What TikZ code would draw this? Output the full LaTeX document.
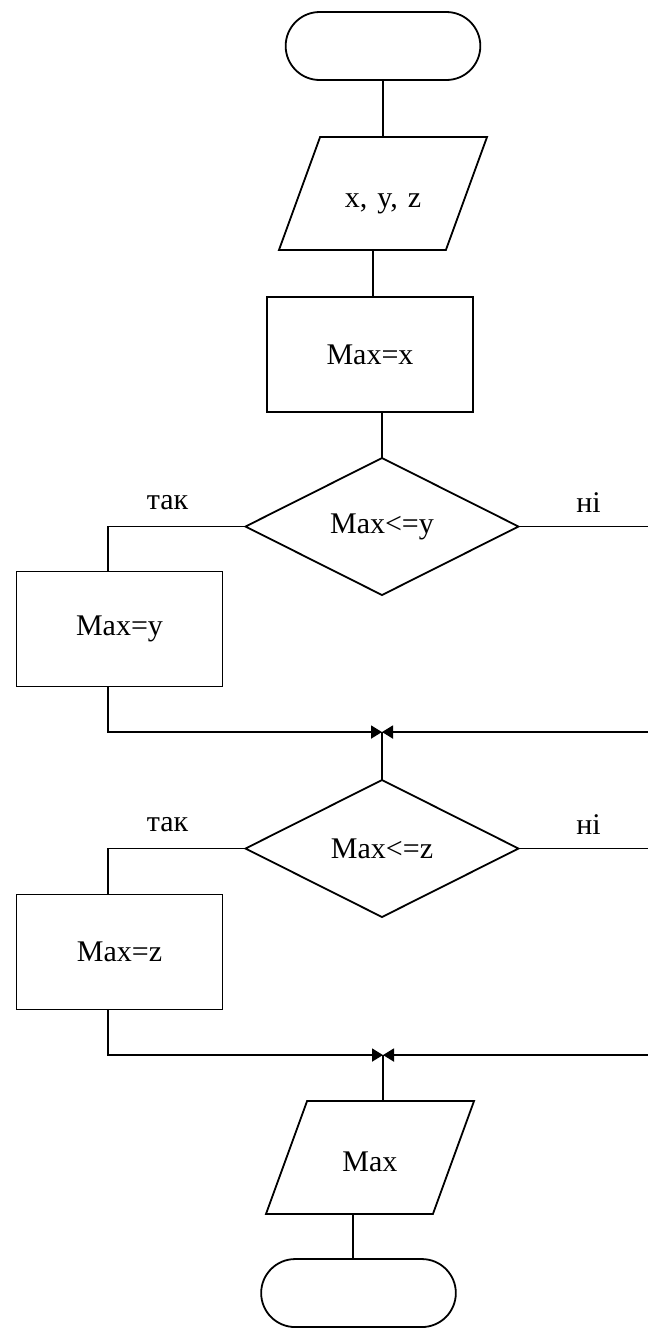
\documentclass[tikz,border=0pt]{standalone}
\usepackage{fontspec}
\setmainfont{Liberation Serif}
\usetikzlibrary{positioning,shapes.geometric,shapes.misc,arrows.meta}

\begin{document}
\begin{tikzpicture}
                [font=\fontsize{15}{18}\selectfont,line width=0.9pt,
                term/.style={rounded rectangle,draw,outer sep=0pt,minimum width=104pt,minimum height=34pt},
                io/.style={trapezium,draw,outer sep=0pt,trapezium left angle=70,trapezium right angle=110,
                  text width=62.9pt,align=center,text height=16pt,text depth=2pt,inner xsep=0pt,inner ysep=19.25pt},
                proc/.style={rectangle,draw,outer sep=0pt,minimum width=103pt,minimum height=57.5pt},
                cond/.style={diamond,draw,outer sep=0pt,minimum width=136.5pt,minimum height=68.5pt,inner sep=0pt},
                lbl/.style={inner sep=0pt},
                mergearr/.style={-{Triangle[length=5.5pt,width=6.5pt]}}]
                \useasboundingbox (0,0) rectangle (324pt,-664.5pt);
                \node[term] (start) at (191.5pt,-23pt) {};
                \node[io] (input)[below=28.5pt of start]{x, y, z};
                \node[proc] (max1)[below=23.5pt of input,xshift=-6.5pt]{Max=x};
                \node[cond] (cmp1)[below=23pt of max1,xshift=6pt]{Max<=y};
                \node[proc] (max2)[below left=22.5pt and 11.5pt of cmp1.west]{Max=y};
                \node[cond] (cmp2)[below=92.5pt of cmp1]{Max<=z};
                \node[proc] (max3)[below left=23pt and 11.5pt of cmp2.west]{Max=z};
                \node[io] (output)[below=92pt of cmp2,xshift=-6pt]{Max};
                \node[term] (stop)[below=22.5pt of output,xshift=-5.75pt]{};
                % yes / no labels
                \node[lbl,xshift=-39pt,yshift=12pt] (yes1) at (cmp1.west){так};
                \node[lbl,xshift=35pt,yshift=12pt] (no1) at (cmp1.east){ні};
                \node[lbl,xshift=-39pt,yshift=12pt] (yes2) at (cmp2.west){так};
                \node[lbl,xshift=35pt,yshift=12pt] (no2) at (cmp2.east){ні};
                % merge points
                \coordinate[above=24pt of cmp2.north] (m1);
                \coordinate[above=23pt of output.north,xshift=6.5pt] (m2);
                \draw (start) -- (input);
                \draw ([xshift=1.5pt]max1.north) |- (input.south);
                \draw (cmp1.north) |- (max1.south);
                \draw (cmp1.west) -| ([xshift=-5.75pt]max2.north);
                \draw[mergearr] ([xshift=-5.75pt]max2.south) |- (m1);
                \draw[mergearr] (cmp1.east) -- ++(66pt,0) |- (m1);
                \draw (m1) -- (cmp2.north);
                \draw (cmp2.west) -| ([xshift=-5.75pt]max3.north);
                \draw[mergearr] ([xshift=-5.75pt]max3.south) |- (m2);
                \draw[mergearr] (cmp2.east) -- ++(66pt,0) |- (m2);
                \draw (m2) -- (m2 |- output.north);
                \draw ([xshift=-2.75pt]stop.north) |- (output.south);
\end{tikzpicture}
\end{document}
